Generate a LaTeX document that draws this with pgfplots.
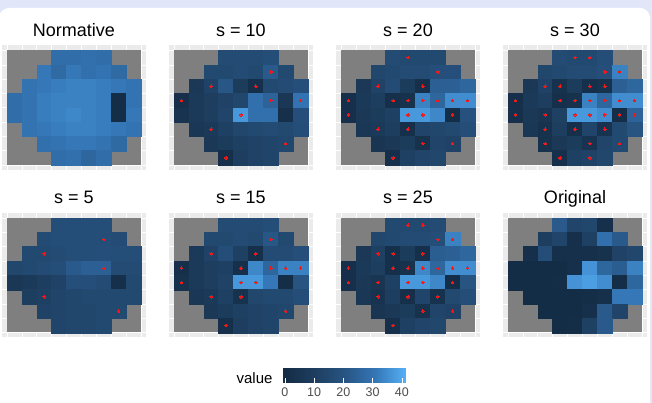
\documentclass[border=0pt]{standalone}
\usepackage{fontspec}
\setmainfont{Liberation Sans}
\usepackage{pgfplots}
\usepackage{pgfplotstable}
\pgfplotsset{compat=1.18}

\definecolor{framebg}{HTML}{E1E7F8}
\definecolor{panelbg}{HTML}{EBEBEB}
\definecolor{nagray}{HTML}{7F7F7F}
\definecolor{dotred}{HTML}{F01A1A}
\definecolor{ticktext}{HTML}{4D4D4D}

% dark navy to light blue fill scale
\pgfplotsset{
  colormap={gg}{rgb255=(19,43,67) rgb255=(29,61,94) rgb255=(39,84,130) rgb255=(52,118,182) rgb255=(86,177,247)},
  vfpanel/.style={
    scale only axis, width=144pt, height=124.5pt,
    xmin=0.1642, xmax=9.8358, ymin=0.1507, ymax=8.8493, y dir=reverse,
    xtick={0.5,1.5,...,9.5}, ytick={0.5,1.5,...,8.5},
    xticklabels={}, yticklabels={},
    major tick length=0pt,
    grid=major, grid style={white, line width=0.6pt},
    axis line style={draw=none},
    axis background/.style={fill=panelbg},
    colormap name=gg, point meta min=-1, point meta max=41.4,
  },
}

% Visual field grid (9 x 8, 54 test locations).
% k: level s at which a location becomes a sampled point (0 = never)
\pgfplotstableread{
x y k  nrm s5 s10 s15 s20 s25 s30 org
4 1 0  28 17 16 16 16 15 16 22
5 1 20 28 17 16 16 15 15 15 13
6 1 25 29 17 16 16 15 15 15 14
7 1 0  28 17 17 17 15 16 17 2
3 2 0  31 16 15 15 14 14 14 10
4 2 0  27 17 15 15 15 15 15 13
5 2 0  31 17 16 16 16 16 16 2
6 2 0  29 17 15 15 16 16 16 11
7 2 5  30 17 22 21 18 17 18 29
8 2 25 27 16 15 15 18 33 33 22
2 3 0  30 15 7  8  7  7  7  2
3 3 5  31 15 12 12 12 11 12 17
4 3 25 32 16 21 17 16 2  3  2
5 3 0  33 17 9  11 9  9  9  2
6 3 10 33 17 2  2  2  2  2  2
7 3 30 32 18 15 16 24 23 3  3
8 3 0  31 17 16 16 24 24 24 12
9 3 0  30 17 18 18 26 26 26 14
1 4 10 28 14 2  2  2  2  2  0
2 4 0  30 15 8  8  8  8  8  0
3 4 0  32 16 10 10 10 10 10 0
4 4 20 33 17 12 11 2  2  2  0
5 4 15 33 22 14 2  3  3  3  2
6 4 20 33 24 29 34 33 34 33 36
7 4 5  32 24 25 26 26 26 26 26
8 4 15 1  16 6  33 35 35 35 23
9 4 10 30 16 30 33 35 35 35 33
1 5 15 28 6  4  3  2  2  2  0
2 5 0  30 8  8  8  7  7  7  0
3 5 25 32 10 10 10 9  5  5  0
4 5 0  33 12 13 12 11 11 11 1
5 5 10 34 18 37 37 37 37 37 36
6 5 15 33 18 29 37 37 37 37 38
7 5 30 32 16 29 31 34 34 35 35
8 5 20 1  2  2  1  1  1  1  1
9 5 30 31 15 18 20 19 20 25 26
2 6 0  30 10 6  6  6  6  6  0
3 6 5  31 11 8  8  8  4  3  0
4 6 0  32 13 11 11 10 10 10 0
5 6 15 33 14 14 3  2  2  2  0
6 6 0  33 15 15 14 13 13 13 1
7 6 25 32 15 16 15 14 3  4  2
8 6 0  31 15 15 15 15 15 15 31
9 6 0  30 15 17 17 17 17 20 31
3 7 30 29 12 7  7  5  5  3  0
4 7 0  30 13 9  9  7  7  7  0
5 7 0  31 14 11 11 9  9  9  0
6 7 20 31 14 12 12 3  3  4  2
7 7 0  30 15 13 13 13 13 13 22
8 7 5  27 15 14 14 12 12 15 13
4 8 10 28 13 2  2  2  2  2  0
5 8 0  29 14 10 10 11 11 11 1
6 8 30 26 14 12 12 13 13 12 11
7 8 0  28 15 13 13 14 14 14 22
}\vf

% #1 left edge of tiles, #2 top edge of tiles (from the top), #3 title,
% #4 value column, #5 sample size s (0 = no sampled points)
\newcommand{\vfpanel}[5]{%
  \begin{axis}[vfpanel, at={(#1pt-5pt,403pt-#2pt+5pt)}, anchor=north west]
    \addplot[draw=none, fill=nagray] coordinates {(0.5,0.5) (9.5,0.5) (9.5,8.5) (0.5,8.5)};
    \addplot[scatter, only marks, mark=square*, mark size=7.55pt,
      scatter src=explicit,
      scatter/use mapped color={draw=mapped color, fill=mapped color},
      mark options={yscale=0.9613, line width=0.2pt}]
      table[x=x, y=y, meta=#4] {\vf};
    \ifnum#5>0
    \addplot[only marks, mark=*, mark size=1.3pt, color=dotred,
      mark options={line width=0pt},
      restrict expr to domain={\thisrow{k}}{1:#5}]
      table[x=x, y=y] {\vf};
    \fi
  \end{axis}
  \node[anchor=base, font=\fontsize{18}{18}\selectfont] at (#1pt+67pt,403pt-#2pt+14pt) {#3};
}

\begin{document}
\begin{tikzpicture}
\useasboundingbox (0,0) rectangle (652pt,403pt);
\fill[framebg] (0,0) rectangle (652pt,403pt);
\fill[white, rounded corners=10pt] (-1pt,-12pt) rectangle (650pt,395pt);

\vfpanel{7}{50.5}{Normative}{nrm}{0}
\vfpanel{174}{50.5}{s = 10}{s10}{10}
\vfpanel{341}{50.5}{s = 20}{s20}{20}
\vfpanel{508}{50.5}{s = 30}{s30}{30}
\vfpanel{7}{218}{s = 5}{s5}{5}
\vfpanel{174}{218}{s = 15}{s15}{15}
\vfpanel{341}{218}{s = 25}{s25}{25}
\vfpanel{508}{218}{Original}{org}{0}

% colour legend
\begin{axis}[at={(282pt,20pt)}, anchor=south west, scale only axis,
  width=124pt, height=25pt, hide axis,
  colormap name=gg, point meta min=-1, point meta max=41.4,
  colorbar horizontal,
  colorbar style={at={(0,0)}, anchor=south west, scale only axis,
    width=124pt, height=25pt,
    xtick={0,10,20,30,40}, xtick pos=both, tick align=inside,
    major tick length=5pt, xtick style={draw=white, line width=0.6pt},
    axis line style={draw=none},
    xticklabel style={font=\fontsize{12.5}{13}\selectfont, text=ticktext,
      yshift=-1.5pt, /pgf/number format/assume math mode=true}}]
  \addplot[draw=none] coordinates {(0,0)};
\end{axis}
\node[anchor=base east, font=\fontsize{15}{15}\selectfont] at (276pt,19pt) {value};
\end{tikzpicture}
\end{document}
